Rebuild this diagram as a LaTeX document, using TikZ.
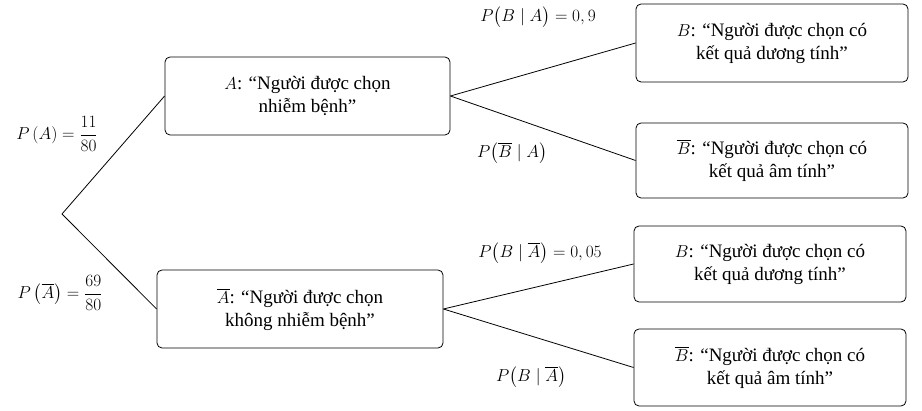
\documentclass[tikz,border=0pt]{standalone}
\usepackage{amsmath}
\usepackage{fontspec}
\setmainfont{Liberation Serif}
\begin{document}
\begin{tikzpicture}[x=1pt,y=-1pt,
  box/.style={draw,thick,rounded corners=5pt,align=center,font=\fontsize{19}{23}\selectfont,inner sep=0pt},
  lab/.style={font=\fontsize{19}{23}\selectfont,inner sep=0pt},
  ln/.style={thick}]
\useasboundingbox (0,0) rectangle (922,411);
\node[box,minimum width=285,minimum height=78] (A) at (307.5,96) {$A$: “Người được chọn\\nhiễm bệnh”};
\node[box,minimum width=286,minimum height=78] (Ab) at (300,309) {$\overline{A}$: “Người được chọn\\không nhiễm bệnh”};
\node[box,minimum width=272,minimum height=78] (B1) at (772,43) {$B$: “Người được chọn có\\kết quả dương tính”};
\node[box,minimum width=272,minimum height=75] (B2) at (772,160.5) {$\overline{B}$: “Người được chọn có\\kết quả âm tính”};
\node[box,minimum width=272,minimum height=76] (B3) at (770,264) {$B$: “Người được chọn có\\kết quả dương tính”};
\node[box,minimum width=272,minimum height=77] (B4) at (770,367.5) {$\overline{B}$: “Người được chọn có\\kết quả âm tính”};
\coordinate (O) at (62,214);
\draw[ln] (O) -- (A.west);
\draw[ln] (O) -- (Ab.west);
\draw[ln] (A.east) -- (B1.west);
\draw[ln] (A.east) -- (B2.west);
\draw[ln] (Ab.east) -- (B3.west);
\draw[ln] (Ab.east) -- (B4.west);
\node[lab] (l1) at (57,134) {$P\left(A\right)=\dfrac{11}{80}$};
\node[lab] (l2) at (60,293) {$P\left(\overline{A}\right)=\dfrac{69}{80}$};
\node[lab] (l3) at (538,17) {$P\big(B\mid A\big)=0,9$};
\node[lab] (l4) at (512,153) {$P\big(\overline{B}\mid A\big)$};
\node[lab] (l5) at (540,253) {$P\big(B\mid \overline{A}\big)=0,05$};
\node[lab] (l6) at (531,377) {$P\big(B\mid \overline{A}\big)$};
\end{tikzpicture}
\end{document}
